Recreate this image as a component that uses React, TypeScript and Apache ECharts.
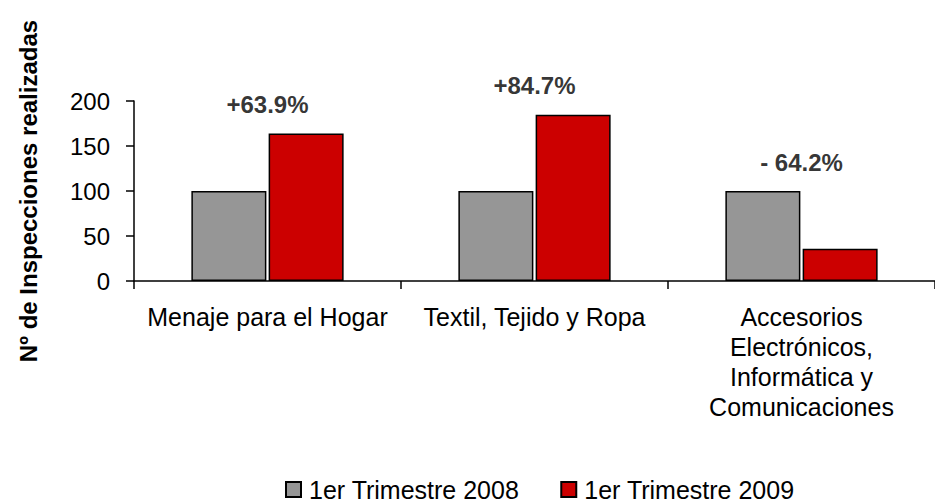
import React, { useEffect, useRef } from "react";
import * as echarts from "echarts";

const categories = [
  "Menaje para el Hogar",
  "Textil, Tejido y Ropa",
  "Accesorios\nElectrónicos,\nInformática y\nComunicaciones",
];
const seriesNames = ["1er Trimestre 2008", "1er Trimestre 2009"];
const values2008 = [100, 100, 100];
const values2009 = [163.9, 184.7, 35.8];
const changeLabels = ["+63.9%", "+84.7%", "- 64.2%"];
const yTicks = { min: 0, max: 200, interval: 50 };

const FONT = "'Liberation Sans', Arial, sans-serif";

export default function App() {
  const ref = useRef<HTMLDivElement>(null);
  useEffect(() => {
    if (!ref.current) return;
    const chart = echarts.init(ref.current, null, { renderer: "svg" });
    const annot = categories.map((c, i) => ({
      value: [i, Math.max(values2008[i], values2009[i])],
      label: { formatter: changeLabels[i] },
    }));
    chart.setOption({
      animation: false,
      textStyle: { fontFamily: FONT },
      grid: { left: 134, top: 101, bottom: 504 - 281, right: -12, containLabel: false },
      legend: {
        data: seriesNames,
        left: 285,
        top: 477,
        padding: 0,
        itemWidth: 15,
        itemHeight: 15,
        itemGap: 41,
        icon: "rect",
        textStyle: { fontSize: 25, color: "#000", fontFamily: FONT, padding: [0, 0, 0, 3] },
      },
      xAxis: {
        type: "category",
        data: categories,
        axisLine: { show: true, lineStyle: { color: "#000", width: 1.5 } },
        axisTick: { show: true, length: 8, alignWithLabel: false, lineStyle: { color: "#000", width: 1.5 } },
        axisLabel: {
          interval: 0,
          fontSize: 25,
          lineHeight: 30,
          margin: 21,
          color: "#000",
          fontFamily: FONT,
          align: "center",
        },
      },
      yAxis: {
        type: "value",
        min: yTicks.min,
        max: yTicks.max,
        interval: yTicks.interval,
        name: "Nº de Inspecciones realizadas",
        nameLocation: "middle",
        nameRotate: 90,
        nameGap: 94,
        nameTextStyle: { fontSize: 24, fontWeight: "bold", color: "#000", fontFamily: FONT },
        splitLine: { show: false },
        axisLine: { show: true, lineStyle: { color: "#000", width: 1.5 } },
        axisTick: { show: true, length: 8, lineStyle: { color: "#000", width: 1.5 } },
        axisLabel: { fontSize: 24, margin: 24, color: "#000", fontFamily: FONT },
      },
      series: [
        {
          name: seriesNames[0],
          type: "bar",
          data: values2008,
          barWidth: 75,
          barGap: "3%",
          itemStyle: { color: "#969696", borderColor: "#000", borderWidth: 1.5 },
        },
        {
          name: seriesNames[1],
          type: "bar",
          data: values2009,
          barWidth: 75,
          barGap: "3%",
          itemStyle: { color: "#CC0000", borderColor: "#000", borderWidth: 1.5 },
        },
        {
          type: "scatter",
          data: annot,
          symbolSize: 0,
          silent: true,
          label: {
            show: true,
            position: "top",
            distance: 17,
            fontSize: 24,
            fontWeight: "bold",
            color: "#000",
            fontFamily: FONT,
          },
        },
      ],
    });
    return () => chart.dispose();
  }, []);
  return (
    <div
      ref={ref}
      style={{ position: "fixed", left: 0, top: 0, width: 935, height: 504, background: "#fff" }}
    />
  );
}
